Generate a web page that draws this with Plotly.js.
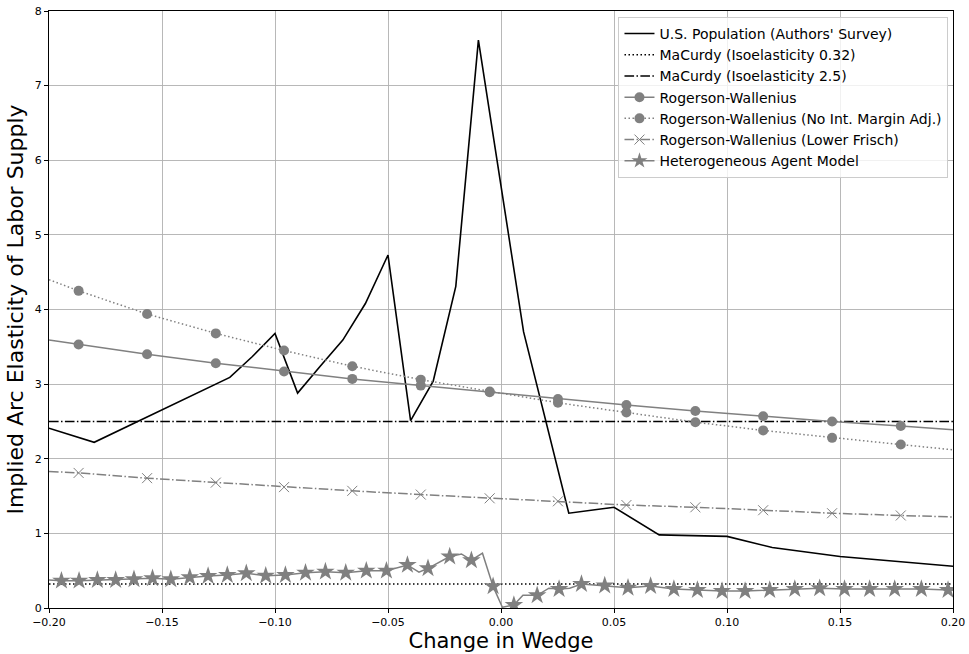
<!DOCTYPE html>
<html>
<head>
<meta charset="utf-8">
<script src="https://cdn.plot.ly/plotly-3.0.1.min.js"></script>
<style>
  html, body { margin: 0; padding: 0; background: #ffffff; }
  #chart { width: 969px; height: 654px; }
</style>
</head>
<body>
<div id="chart"></div>
<script>
// ---- Data ----
var seriesNames = [
  "U.S. Population (Authors' Survey)",
  "MaCurdy (Isoelasticity 0.32)",
  "MaCurdy (Isoelasticity 2.5)",
  "Rogerson-Wallenius",
  "Rogerson-Wallenius (No Int. Margin Adj.)",
  "Rogerson-Wallenius (Lower Frisch)",
  "Heterogeneous Agent Model"
];

// U.S. population (authors' survey)
var usX = [-0.20, -0.18, -0.12, -0.11, -0.10, -0.09, -0.08, -0.07, -0.06, -0.05, -0.04, -0.03, -0.02, -0.01, 0.01, 0.03, 0.05, 0.07, 0.10, 0.12, 0.15, 0.20];
var usY = [2.41, 2.22, 3.09, 3.37, 3.68, 2.88, 3.24, 3.59, 4.08, 4.73, 2.51, 3.04, 4.31, 7.61, 3.70, 1.27, 1.35, 0.98, 0.96, 0.81, 0.69, 0.56];

// MaCurdy isoelastic benchmarks
var edgeX = [-0.20, 0.20];
var macurdyLow = [0.32, 0.32];
var macurdyHigh = [2.5, 2.5];

// Rogerson-Wallenius models (marker positions)
var rwX = [-0.1869, -0.1566, -0.1262, -0.0960, -0.0658, -0.0355, -0.0050, 0.0252, 0.0555, 0.0860, 0.1160, 0.1465, 0.1769];
var rwY = [3.53, 3.40, 3.28, 3.17, 3.07, 2.98, 2.89, 2.80, 2.72, 2.64, 2.57, 2.50, 2.44];
var rwNoIntY = [4.25, 3.94, 3.68, 3.45, 3.24, 3.06, 2.90, 2.75, 2.62, 2.49, 2.38, 2.28, 2.19];
var rwLowY = [1.81, 1.74, 1.68, 1.62, 1.57, 1.52, 1.47, 1.43, 1.38, 1.35, 1.31, 1.27, 1.24];
// values of the same curves at the ends of the x range
var rwEdgeY = [3.59, 2.39];
var rwNoIntEdgeY = [4.40, 2.12];
var rwLowEdgeY = [1.83, 1.22];

// Heterogeneous agent model (star markers)
var hetX = [-0.1945, -0.1867, -0.1786, -0.1705, -0.1624, -0.1542, -0.1461, -0.1377, -0.1296, -0.1211,
            -0.1127, -0.1041, -0.0954, -0.0865, -0.0777, -0.0687, -0.0596, -0.0507, -0.0414, -0.0323,
            -0.0227, -0.0131, -0.0035, 0.0057, 0.0160, 0.0257, 0.0356, 0.0459, 0.0562, 0.0662,
            0.0765, 0.0869, 0.0978, 0.1080, 0.1189, 0.1300, 0.1410, 0.1520, 0.1631, 0.1742,
            0.1860, 0.1978];
var hetY = [0.366, 0.366, 0.375, 0.375, 0.384, 0.398, 0.384, 0.411, 0.429, 0.442,
            0.465, 0.433, 0.442, 0.473, 0.487, 0.473, 0.500, 0.500, 0.577, 0.532,
            0.690, 0.640, 0.290, 0.040, 0.170, 0.255, 0.320, 0.300, 0.272, 0.295,
            0.255, 0.241, 0.228, 0.228, 0.241, 0.255, 0.264, 0.255, 0.255, 0.255,
            0.255, 0.241];
// extra line vertices of the same model between the stars
var hetExtraX = [-0.2000, -0.0363, -0.0175, -0.0082, 0.0006, 0.0097, 0.0212, 0.0304, 0.2000];
var hetExtraY = [0.375, 0.480, 0.724, 0.735, 0.010, 0.170, 0.265, 0.265, 0.240];

// ---- Build line vertex lists ----
function withEdges(xs, ys, edgeYs) {
  return { x: [edgeX[0]].concat(xs, [edgeX[1]]), y: [edgeYs[0]].concat(ys, [edgeYs[1]]) };
}
function mergeSorted(xa, ya, xb, yb) {
  var pts = [];
  for (var i = 0; i < xa.length; i++) pts.push([xa[i], ya[i]]);
  for (var j = 0; j < xb.length; j++) pts.push([xb[j], yb[j]]);
  pts.sort(function (a, b) { return a[0] - b[0]; });
  return { x: pts.map(function (p) { return p[0]; }), y: pts.map(function (p) { return p[1]; }) };
}

var GRAY = '#808080';
var BLACK = '#000000';
var DOT = '1.5px,2.5px';
var DASHDOT = '9.6px,2.4px,1.5px,2.4px';

var rwLine = withEdges(rwX, rwY, rwEdgeY);
var rwNoIntLine = withEdges(rwX, rwNoIntY, rwNoIntEdgeY);
var rwLowLine = withEdges(rwX, rwLowY, rwLowEdgeY);
var hetLine = mergeSorted(hetX, hetY, hetExtraX, hetExtraY);

var circ = { symbol: 'circle', size: 10, color: GRAY, line: { width: 0 } };
var xmk = { symbol: 'x-thin-open', size: 10, color: GRAY, line: { width: 1, color: GRAY } };
var star = { symbol: 'star', size: 14, color: GRAY, line: { width: 0 } };
var starLegend = { symbol: 'star', size: 12, color: GRAY, line: { width: 0 } };

var traces = [];
function addSeries(group, line, markerXY, lineStyle, marker) {
  traces.push({ type: 'scatter', mode: 'lines', x: line.x, y: line.y, line: lineStyle,
                showlegend: false, legendgroup: group, hoverinfo: 'skip' });
  if (marker) {
    traces.push({ type: 'scatter', mode: 'markers', x: markerXY.x, y: markerXY.y, marker: marker,
                  showlegend: false, legendgroup: group, hoverinfo: 'skip' });
  }
}

addSeries('g0', { x: usX, y: usY }, null, { color: BLACK, width: 1.6 }, null);
addSeries('g1', { x: edgeX, y: macurdyLow }, null, { color: BLACK, width: 1.5, dash: DOT }, null);
addSeries('g2', { x: edgeX, y: macurdyHigh }, null, { color: BLACK, width: 1.5, dash: DASHDOT }, null);
addSeries('g3', rwLine, { x: rwX, y: rwY }, { color: GRAY, width: 1.5 }, circ);
addSeries('g4', rwNoIntLine, { x: rwX, y: rwNoIntY }, { color: GRAY, width: 1.5, dash: DOT }, circ);
addSeries('g5', rwLowLine, { x: rwX, y: rwLowY }, { color: GRAY, width: 1.5, dash: DASHDOT }, xmk);
addSeries('g6', hetLine, { x: hetX, y: hetY }, { color: GRAY, width: 1.5 }, star);

// legend entries
var legendStyles = [
  { line: { color: BLACK, width: 1.6 }, mode: 'lines' },
  { line: { color: BLACK, width: 1.5, dash: DOT }, mode: 'lines' },
  { line: { color: BLACK, width: 1.5, dash: DASHDOT }, mode: 'lines' },
  { line: { color: GRAY, width: 1.5 }, mode: 'lines+markers', marker: circ },
  { line: { color: GRAY, width: 1.5, dash: DOT }, mode: 'lines+markers', marker: circ },
  { line: { color: GRAY, width: 1.5, dash: DASHDOT }, mode: 'lines+markers', marker: xmk },
  { line: { color: GRAY, width: 1.5 }, mode: 'lines+markers', marker: starLegend }
];
for (var k = 0; k < seriesNames.length; k++) {
  var t = { type: 'scatter', x: [null], y: [null], name: seriesNames[k], legendgroup: 'g' + k,
            mode: legendStyles[k].mode, line: legendStyles[k].line, showlegend: true, hoverinfo: 'skip' };
  if (legendStyles[k].marker) t.marker = legendStyles[k].marker;
  traces.push(t);
}

var FONT = 'DejaVu Sans, Verdana, sans-serif';
var layout = {
  width: 969, height: 654,
  paper_bgcolor: '#ffffff', plot_bgcolor: '#ffffff',
  margin: { l: 49, r: 16, t: 11, b: 46, pad: 0 },
  font: { family: FONT, color: '#000000', size: 11 },
  showlegend: true,
  hovermode: false,
  xaxis: {
    range: [-0.2, 0.2], dtick: 0.05, tick0: 0, tickformat: '.2f',
    showgrid: true, gridcolor: '#b0b0b0', gridwidth: 0.9, zeroline: false,
    showline: true, linecolor: '#000000', linewidth: 1, mirror: true,
    ticks: 'outside', ticklen: 4, tickcolor: '#000000', tickwidth: 1,
    tickfont: { family: FONT, size: 11, color: '#000000' },
    title: { text: 'Change in Wedge', font: { family: FONT, size: 21, color: '#000000' }, standoff: 5 },
    automargin: false
  },
  yaxis: {
    range: [0, 8], dtick: 1, tick0: 0,
    showgrid: true, gridcolor: '#b0b0b0', gridwidth: 0.9, zeroline: false,
    showline: true, linecolor: '#000000', linewidth: 1, mirror: true,
    ticks: 'outside', ticklen: 4, tickcolor: '#000000', tickwidth: 1,
    tickfont: { family: FONT, size: 11, color: '#000000' },
    title: { text: 'Implied Arc Elasticity of Labor Supply', font: { family: FONT, size: 22, color: '#000000' }, standoff: 5 },
    automargin: false
  },
  legend: {
    x: 0.995, xanchor: 'right', y: 0.99, yanchor: 'top',
    bgcolor: 'rgba(255,255,255,0.8)', bordercolor: '#cccccc', borderwidth: 1,
    font: { family: FONT, size: 14, color: '#000000' },
    itemwidth: 30, tracegroupgap: 0, traceorder: 'normal'
  }
};

Plotly.newPlot('chart', traces, layout, { displayModeBar: false, staticPlot: true });
</script>
</body>
</html>
